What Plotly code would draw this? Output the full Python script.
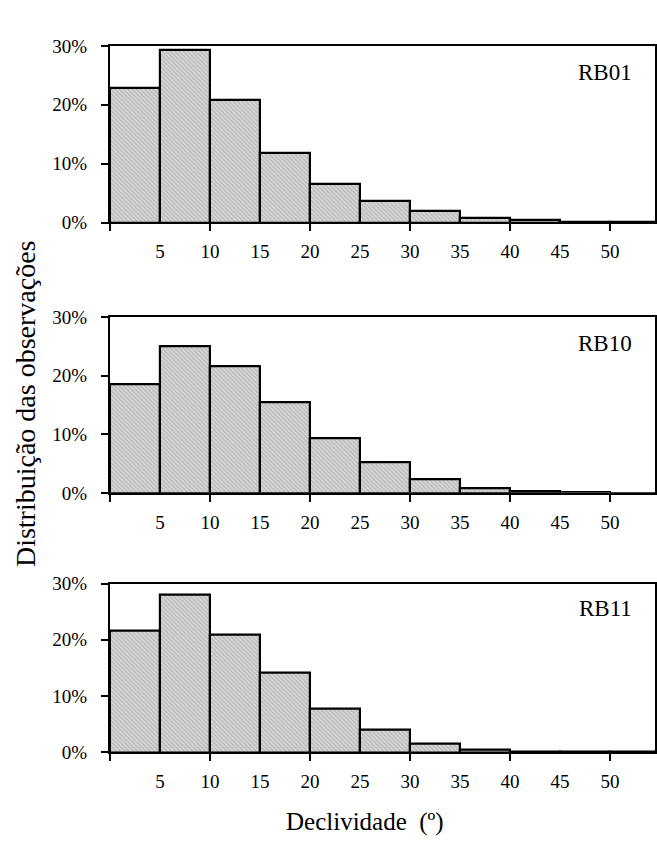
import plotly.graph_objects as go

# Data
bin_left = [0, 5, 10, 15, 20, 25, 30, 35, 40, 45, 50]
bin_width = 5
panels = ["RB01", "RB10", "RB11"]
rb01 = [22.8, 29.3, 20.8, 11.8, 6.5, 3.7, 1.9, 0.8, 0.4, 0.15, 0.05]
rb10 = [18.5, 25.0, 21.6, 15.4, 9.4, 5.3, 2.4, 0.85, 0.3, 0.05, 0.02]
rb11 = [21.6, 28.0, 21.0, 14.1, 7.7, 4.0, 1.5, 0.5, 0.15, 0.05, 0.02]
series = [rb01, rb10, rb11]
x_label_vals = [5, 10, 15, 20, 25, 30, 35, 40, 45, 50]
x_tick_vals = [0, 10, 20, 30, 40, 50]
y_tick_vals = [0, 10, 20, 30]
y_title = "Distribuição das observações"
x_title = "Declividade  (º)"

FONT = "Liberation Serif"
W, H = 657, 844
x_dom = [110 / W, 655 / W]
y_doms = [
    [0.7418, 0.9564],
    [0.4133, 0.6267],
    [0.0982, 0.3030],
]
xrange = [0, 54.5]

fig = go.Figure()
centers = [b + bin_width / 2 for b in bin_left]

layout = dict(
    width=W, height=H,
    margin=dict(l=0, r=0, t=0, b=0),
    paper_bgcolor="white", plot_bgcolor="white",
    showlegend=False,
    font=dict(family=FONT, size=19, color="black"),
    bargap=0,
)

annotations = []
for i, (name, vals) in enumerate(zip(panels, series)):
    n = i + 1
    xa = "x" if n == 1 else f"x{n}"
    ya = "y" if n == 1 else f"y{n}"
    fig.add_trace(go.Bar(
        x=centers, y=vals, width=[bin_width] * len(vals),
        xaxis=xa, yaxis=ya,
        marker=dict(
            color="#cfcfcf",
            line=dict(color="black", width=2.2),
            pattern=dict(shape="\\", fgcolor="#8c8c8c", bgcolor="#d4d4d4",
                         size=3, solidity=0.3),
        ),
        hoverinfo="skip",
    ))
    layout[f"xaxis{'' if n == 1 else n}"] = dict(
        domain=x_dom, anchor=ya, range=xrange,
        tickvals=x_tick_vals, ticks="outside", ticklen=7, tickwidth=2,
        tickcolor="black", showticklabels=False,
        showline=True, linecolor="black", linewidth=2, mirror=True,
        showgrid=False, zeroline=False, fixedrange=True,
    )
    m = n + 3
    layout[f"xaxis{m}"] = dict(
        overlaying=xa, anchor=ya, range=xrange, side="bottom",
        tickvals=x_label_vals, ticktext=[str(v) for v in x_label_vals],
        ticks="", showline=False, showgrid=False, zeroline=False,
        ticklabelstandoff=16, tickfont=dict(size=19),
    )
    layout[f"yaxis{'' if n == 1 else n}"] = dict(
        domain=y_doms[i], anchor=xa, range=[0, 30],
        tickvals=y_tick_vals, ticktext=[f"{v}%" for v in y_tick_vals],
        ticks="outside", ticklen=7, tickwidth=2, tickcolor="black",
        ticklabelstandoff=10,
        showline=True, linecolor="black", linewidth=2, mirror=True,
        showgrid=False, zeroline=False, tickfont=dict(size=19),
    )
    annotations.append(dict(
        text=name, xref=f"{xa} domain", yref=f"{ya} domain",
        x=0.962, y=0.85, xanchor="right", yanchor="middle",
        showarrow=False, font=dict(family=FONT, size=23),
    ))
    # dummy trace to activate overlay axis
    fig.add_trace(go.Scatter(x=[None], y=[None], xaxis=f"x{m}", yaxis=ya,
                             hoverinfo="skip", showlegend=False))

annotations.append(dict(
    text=y_title, xref="paper", yref="paper", x=25 / W, y=0.5212,
    xanchor="center", yanchor="middle", textangle=-90, showarrow=False,
    font=dict(family=FONT, size=28),
))
annotations.append(dict(
    text=x_title, xref="paper", yref="paper", x=365 / W, y=0.0133,
    xanchor="center", yanchor="middle", showarrow=False,
    font=dict(family=FONT, size=25),
))
layout["annotations"] = annotations
fig.update_layout(**layout)
fig.write_html("out.html")
